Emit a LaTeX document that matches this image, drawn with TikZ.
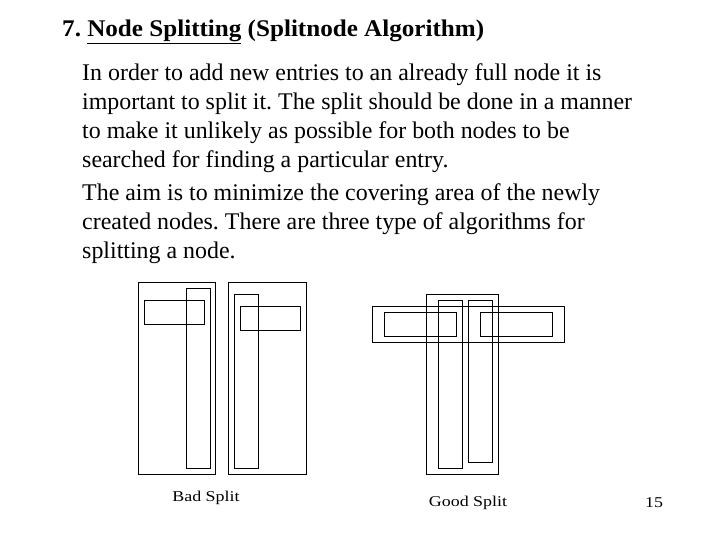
\documentclass[tikz,border=0pt]{standalone}
\usepackage{fontspec}
\setmainfont{Liberation Serif}
\begin{document}
\frenchspacing
\begin{tikzpicture}[x=1bp,y=-1bp,box/.style={draw,line width=1.5bp},
 txt/.style={anchor=west,inner sep=0,font=\fontsize{24}{29}\selectfont},
 lab/.style={font=\fontsize{15}{17}\selectfont,inner sep=0,xscale=1.2}]
\useasboundingbox (0,0) rectangle (720,540);
\node[txt,font=\fontsize{24}{28}\selectfont\bfseries,xscale=1.05] (title) at (62,32) {7. \underline{Node Splitting} (Splitnode Algorithm)};
\node[txt] (l1) at (82,75) {In order to add new entries to an already full node it is};
\node[txt] (l2) at (82,104) {important to split it. The split should be done in a manner};
\node[txt] (l3) at (82,133) {to make it unlikely as possible for both nodes to be};
\node[txt] (l4) at (82,162) {searched for finding a particular entry.};
\node[txt] (l5) at (82,195) {The aim is to minimize the covering area of the newly};
\node[txt] (l6) at (82,224) {created nodes. There are three type of algorithms for};
\node[txt] (l7) at (82,253) {splitting a node.};
% bad split
\draw[box] (138.3,282.3) rectangle (215.7,474.3);
\draw[box] (186.7,288.3) rectangle (210.3,468.3);
\draw[box] (144.3,300.3) rectangle (204.3,324.3);
\draw[box] (228.3,282.3) rectangle (306.3,474.3);
\draw[box] (234.3,294.3) rectangle (258.3,468.3);
\draw[box] (240.3,306.3) rectangle (300.3,330.3);
% good split
\draw[box] (426.7,294.3) rectangle (498.3,474.3);
\draw[box] (372.3,306.3) rectangle (564.3,342.3);
\draw[box] (384.3,312.3) rectangle (456.3,336.3);
\draw[box] (480.3,312.3) rectangle (552.3,336.3);
\draw[box] (438.3,300.3) rectangle (462.3,468.3);
\draw[box] (468.3,300.3) rectangle (492.3,462.3);
\node[lab] (bad) at (206,498) {Bad Split};
\node[lab] (good) at (468,503) {Good Split};
\node[lab] (pg) at (654,503) {15};
\end{tikzpicture}
\end{document}
